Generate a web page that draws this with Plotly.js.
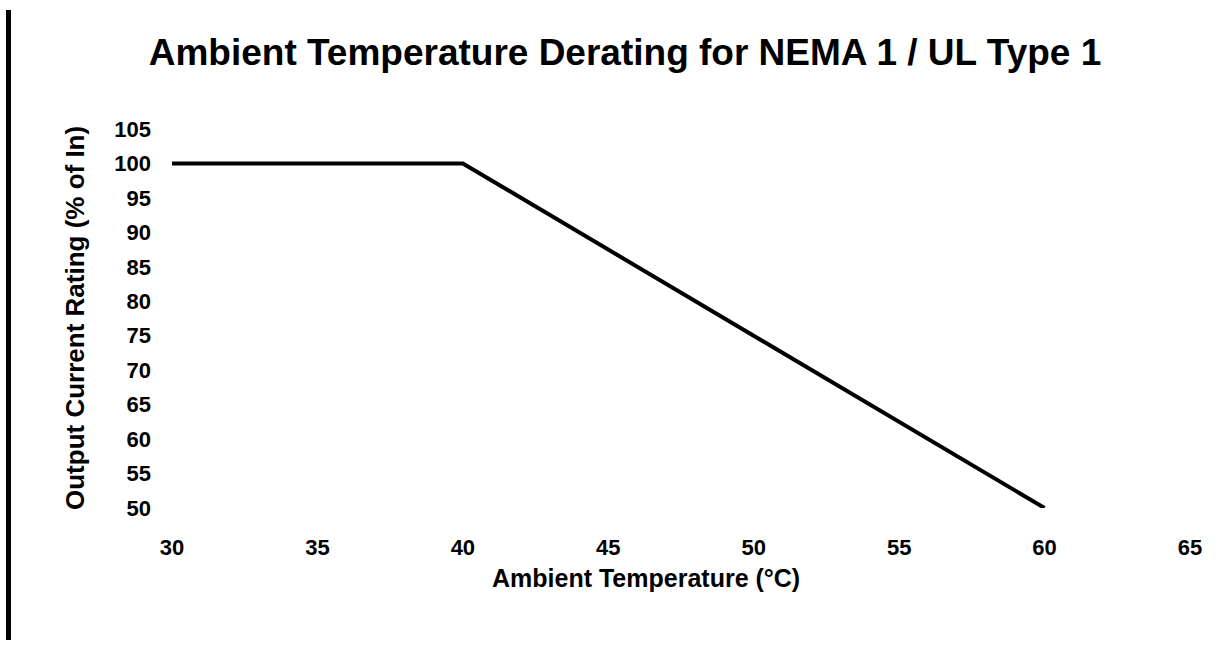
<!DOCTYPE html>
<html>
<head>
<meta charset="utf-8">
<script src="https://cdn.plot.ly/plotly-3.0.1.min.js"></script>
<style>html,body{margin:0;padding:0;background:#fff;}#chart{width:1221px;height:648px;}</style>
</head>
<body>
<div id="chart"></div>
<script>
var temperature = [30, 40, 60];
var currentRating = [100, 100, 50];
var xTicks = [30, 35, 40, 45, 50, 55, 60, 65];
var yTicks = [50, 55, 60, 65, 70, 75, 80, 85, 90, 95, 100, 105];
var chartTitle = "Ambient Temperature Derating for NEMA 1 / UL Type 1";
var xTitle = "Ambient Temperature (°C)";
var yTitle = "Output Current Rating (% of In)";

var trace = {
  x: temperature, y: currentRating, type: 'scatter', mode: 'lines',
  line: {color: '#000', width: 4}, hoverinfo: 'none'
};
var layout = {
  width: 1221, height: 648,
  margin: {l: 172, r: 31, t: 129, b: 140},
  paper_bgcolor: '#fff', plot_bgcolor: '#fff',
  showlegend: false,
  font: {family: 'Liberation Sans, Arial, sans-serif', color: '#000'},
  title: {text: '<b>' + chartTitle + '</b>', x: 625/1221, xanchor: 'center', y: 1 - 52/648, yanchor: 'middle',
          font: {size: 37, color: '#000', family: 'Liberation Sans, Arial, sans-serif'}},
  xaxis: {range: [30, 65], tickvals: xTicks, ticktext: xTicks.map(function(v){return '<b>' + v + '</b>';}),
          showgrid: false, zeroline: false, showline: false, ticks: '', ticklabelstandoff: 24,
          tickfont: {size: 22, color: '#000'}},
  yaxis: {range: [50, 105], tickvals: yTicks, ticktext: yTicks.map(function(v){return '<b>' + v + '</b>';}),
          showgrid: false, zeroline: false, showline: false, ticks: '', ticklabelstandoff: 20,
          tickfont: {size: 22, color: '#000'}},
  annotations: [
    {text: '<b>' + xTitle + '</b>', xref: 'paper', yref: 'paper', x: (646-172)/1018, y: (508-578)/379,
     xanchor: 'center', yanchor: 'middle', showarrow: false, font: {size: 25, color: '#000'}},
    {text: '<b>' + yTitle + '</b>', xref: 'paper', yref: 'paper', x: (75-172)/1018, y: (508-318)/379,
     xanchor: 'center', yanchor: 'middle', textangle: -90, showarrow: false, font: {size: 26, color: '#000'}}
  ],
  shapes: [
    {type: 'line', xref: 'paper', yref: 'paper', x0: (8.5-172)/1018, x1: (8.5-172)/1018,
     y0: (508-10)/379, y1: (508-640)/379, line: {color: '#000', width: 5}}
  ]
};
Plotly.newPlot('chart', [trace], layout, {displayModeBar: false, staticPlot: true});
</script>
</body>
</html>
